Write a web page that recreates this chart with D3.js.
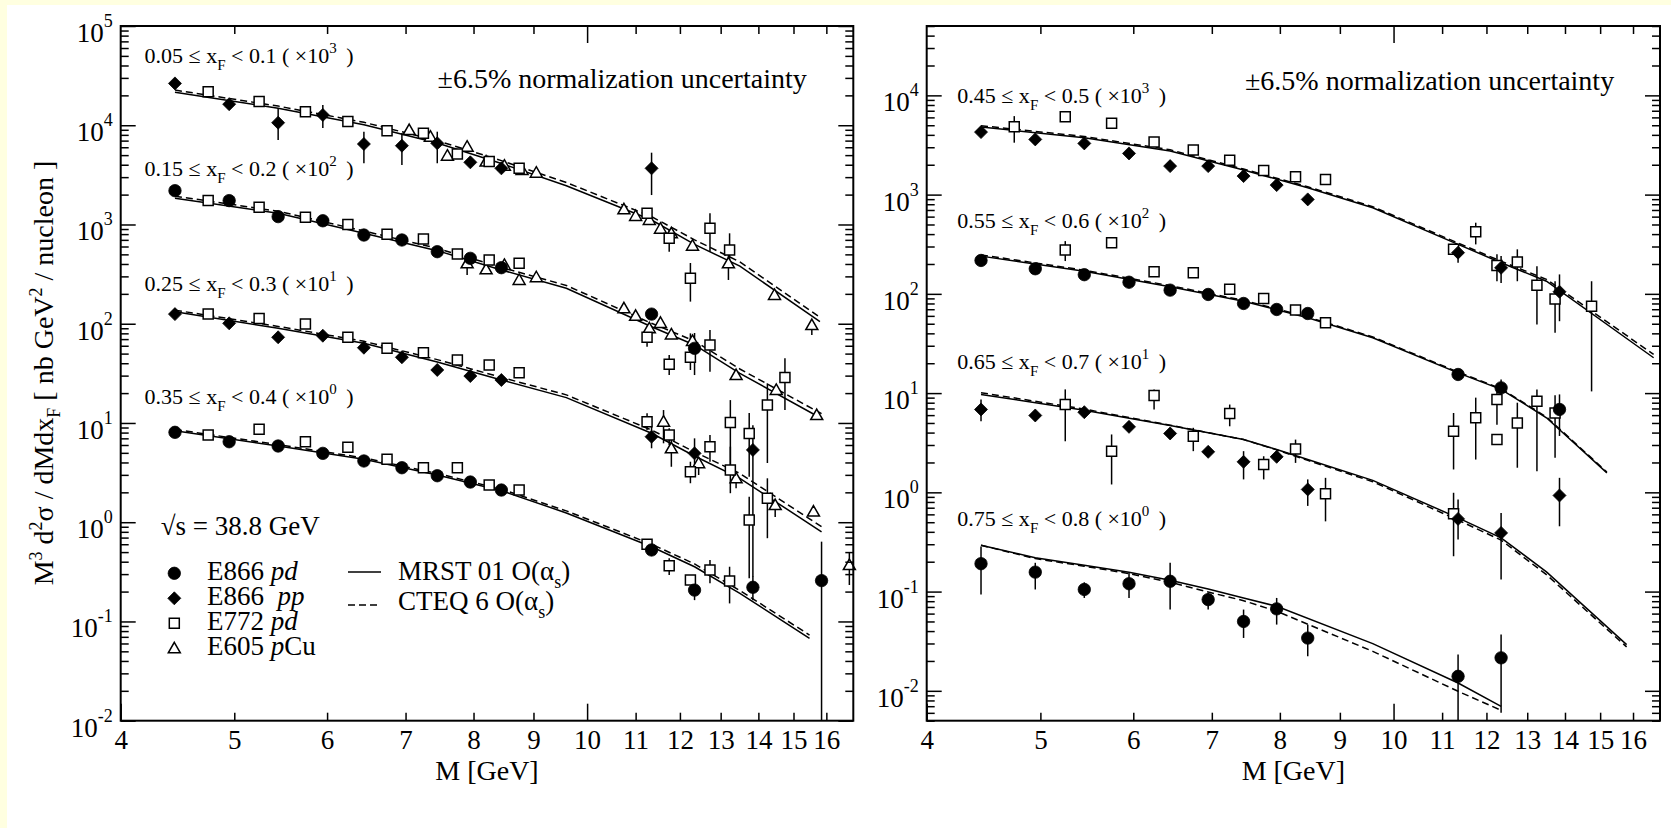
<!DOCTYPE html>
<html>
<head>
<meta charset="utf-8">
<script src="https://cdn.jsdelivr.net/npm/d3@7"></script>
<style>
  body { margin: 0; background: #ffffe0; }
  svg { display: block; }
  text { font-family: "Liberation Serif", "Times New Roman", serif; fill: #000; }
  .axis text { font-family: "Liberation Serif", serif; font-size: 27px; }
  .axis line { stroke: #000; stroke-width: 1.5; }
  .ylab { font-size: 27px; }
  .bin { font-size: 22px; }
  .title { font-size: 28px; }
  .leg { font-size: 27px; }
  .mrst { fill: none; stroke: #000; stroke-width: 1.5; }
  .cteq { fill: none; stroke: #000; stroke-width: 1.5; stroke-dasharray: 7,4; }
  .err { stroke: #000; stroke-width: 1.5; }
  .frame { fill: none; stroke: #000; stroke-width: 2; }
</style>
</head>
<body>
<svg id="chart" width="1671" height="828"></svg>
<script>
// ---------- left panel: rows are [M, value, low, high] ----------
// 0.05 <= xF < 0.1 (x10^3)
const a_e866pp = [[4.45,26400],[4.95,16300],[5.45,10600,7100,14900],[5.95,12700,9380,16000],[6.45,6470,4140,8610],[6.95,6220,3970,8360],[7.45,6580,4140,8610],[7.95,4230],[8.45,3680],[11.35,3680,1980,5290]];
const a_e772 = [[4.75,21800],[5.25,17300],[5.75,13700],[6.25,10900],[6.75,8810],[7.25,8290],[7.75,5130],[8.25,4300],[8.75,3680],[11.25,1300],[11.75,726,532,879],[12.25,287,167,409],[12.73,914,532,1297],[13.23,553,376,815]];
const a_e605 = [[7.05,8950],[7.35,7670],[7.6,4930],[7.9,6080],[8.2,4300],[8.5,3910],[8.8,3540],[9.05,3330],[10.75,1420],[11.0,1220],[11.3,1110],[11.55,906],[11.8,814],[12.3,611],[13.2,406,276,532],[14.45,195],[15.55,97,77,97]];
const a_thM = [4.45,5.45,6.45,7.45,8.45,9.6,11.35,12.35,13.5,15.8];
const a_mrst = [21480,14830,10120,6610,4120,2455,1109,631,380,105];
const a_cteq = [22600,15600,10700,7000,4400,2650,1200,700,420,116];

// 0.15 <= xF < 0.2 (x10^2)
const b_e866pd = [[4.45,2190],[4.95,1740],[5.45,1200],[5.95,1090],[6.45,783],[6.95,698],[7.45,532],[7.95,456],[8.45,367],[11.35,125],[12.35,56.5,30.4,80.7]];
const b_e772 = [[4.75,1740],[5.25,1490],[5.75,1180],[6.25,1000],[6.75,796],[7.25,714],[7.75,505],[8.25,439],[8.75,406],[11.25,73,58.6,90],[11.75,39,30.4,48.4],[12.25,46,34.2,80],[12.73,61,32.9,86.5],[13.25,10.1,3.36,17.0],[14.25,15.2,3.95,25.1],[14.75,28.8,13.5,44.8]];
const b_e605 = [[7.9,406,310,513],[8.2,353],[8.5,391],[8.75,276],[9.05,294],[10.75,143],[11.0,120],[11.3,90],[11.55,102],[11.8,78],[12.3,67],[13.4,30.4],[14.5,21.5],[15.7,12.0]];
const b_thM = [4.45,5.45,6.45,7.45,8.45,9.6,11.35,12.35,13.5,15.85];
const b_mrst = [1837,1297,815,545,348,228,93.3,61.1,31.6,11.1];
const b_cteq = [1930,1360,860,575,370,243,101,67,35,12.4];

// 0.25 <= xF < 0.3 (x10^1)
const c_e866pp = [[4.45,125],[4.95,101],[5.45,73],[5.95,75.7],[6.45,57.3],[6.95,45.9],[7.45,34.2],[7.95,29.7],[8.45,27.1],[11.35,7.27,5.56,9.17],[12.35,4.94,2.88,7.0],[13.85,5.35,0.28,9.5]];
const c_e772 = [[4.75,125],[5.25,113],[5.75,99.4],[6.25,73],[6.75,56.5],[7.25,51],[7.75,43],[8.25,38.4],[8.75,32.1],[11.25,10.3,8.49,12.5],[11.75,7.57,6.0,8.83],[12.25,3.23,2.47,4.07],[12.73,5.77,4.07,7.56],[13.25,3.36,1.96,5.77],[13.75,7.85,2.87,12.6],[14.25,1.74,0.69,2.77]];
const c_e605 = [[11.62,10.3,6.24,13.5],[11.8,5.56,3.62,6.73],[12.45,3.93,2.99,4.4],[13.4,2.77,2.2,2.99],[14.47,1.49,1.13,1.67],[15.6,1.28],[16.74,0.37,0.233,0.50]];
const c_thM = [4.45,5.45,6.45,7.45,8.45,9.6,11.35,12.35,13.5,15.85];
const c_mrst = [132,89.9,63.5,41.2,27.1,18.0,7.87,4.65,2.77,0.80];
const c_cteq = [137,94,66.5,43.5,28.8,19.2,8.5,5.1,3.1,0.9];

// 0.35 <= xF < 0.4 (x10^0)
const d_e866pd = [[4.45,8.05],[4.95,6.47],[5.45,5.86],[5.95,4.94],[6.45,4.14],[6.95,3.54],[7.45,2.94],[7.95,2.54],[8.45,2.11],[11.35,0.525],[12.35,0.207,0.164,0.251],[13.85,0.221,0.164,0.283],[15.85,0.258,0.01,0.637]];
const d_e772 = [[4.75,7.57],[5.25,8.63],[5.75,6.47],[6.25,5.69],[6.75,4.31],[7.25,3.54],[7.75,3.54],[8.25,2.37],[8.75,2.11],[11.25,0.60],[11.75,0.364,0.294,0.433],[12.25,0.261],[12.73,0.33,0.242,0.416],[13.23,0.255,0.152,0.356],[13.75,1.05,0.272,1.81]];
const d_thM = [4.45,5.45,6.45,7.45,8.45,9.6,11.35,12.35,13.5,15.48];
const d_mrst = [8.36,5.86,4.31,2.99,2.08,1.24,0.566,0.356,0.192,0.0675];
const d_cteq = [8.6,6.05,4.45,3.1,2.15,1.3,0.6,0.38,0.205,0.073];

// ---------- right panel ----------
// 0.45 <= xF < 0.5 (x10^3)
const e_e866pp = [[4.45,4266],[4.95,3600],[5.45,3281],[5.95,2602],[6.45,1937],[6.95,1937],[7.45,1537],[7.95,1247],[8.45,895],[11.35,260,206,315],[12.35,183,129,240],[13.85,105,53,157]];
const e_e772 = [[4.75,4836,3336,6180],[5.25,6100],[5.75,5227],[6.25,3381],[6.75,2813],[7.25,2213],[7.75,1753],[8.25,1514],[8.75,1422],[11.25,281],[11.75,423,315,521],[12.25,193,134,250],[12.75,209,134,281],[13.25,122,49,190],[13.73,89,40.5,134],[14.75,75,10.4,134]];
const e_thM = [4.45,5.45,6.45,7.45,8.45,9.6,11.35,12.35,13.5,16.66];
const e_mrst = [4797,3741,2748,1766,1175,738,315,206,134,22.7];
const e_cteq = [4950,3850,2830,1810,1200,755,325,213,140,24.5];

// 0.55 <= xF < 0.6 (x10^2)
const f_e866pd = [[4.45,217],[4.95,179],[5.45,156],[5.95,131],[6.45,109],[6.95,98.6],[7.45,80],[7.95,69.6],[8.45,63.4],[11.35,15.4],[12.35,11.3,9.0,13.7],[13.85,6.84,3.7,9.7]];
const f_e772 = [[5.25,276,214,340],[5.75,327],[6.25,167],[6.75,163],[7.25,111],[7.75,90],[8.25,68.6],[8.75,51.2],[11.25,4.13,1.70,6.3],[11.75,5.64,2.14,9.0],[12.25,8.6,4.8,10.9],[12.25,3.4],[12.75,5.0,1.77,8.0],[13.25,8.3,1.63,10.9],[13.73,6.3,2.23,9.5]];
const f_thM = [4.45,5.45,6.45,7.45,8.45,9.6,11.35,12.35,13.5,15.2];
const f_mrst = [240,169,118,84.3,57.4,36.1,16.0,10.9,5.64,1.57];
const f_cteq = [247,173,121,86,58.5,36.8,16.3,11.1,5.75,1.6];

// 0.65 <= xF < 0.7 (x10^1)
const g_e866pp = [[4.45,6.84,5.2,8.6],[4.95,5.95],[5.45,6.42],[5.95,4.57],[6.45,3.92],[6.95,2.56],[7.45,2.03,1.35,2.6],[7.95,2.28],[8.45,1.07,0.73,1.35],[11.35,0.54,0.335,0.845],[12.35,0.39,0.132,0.62],[13.85,0.93,0.455,1.40]];
const g_e772 = [[5.25,7.67,3.27,10.9],[5.75,2.6,1.2,3.83],[6.25,9.46,6.84,10.9],[6.75,3.68,2.6,4.47],[7.25,6.22,4.63,7.67],[7.75,1.91,1.35,2.31],[8.25,2.74,1.98,3.40],[8.75,0.97,0.51,1.40],[11.25,0.61,0.227,0.99]];
const g_thM = [4.45,5.45,6.45,7.45,7.95,8.45,9.6,11.35,12.35,13.5,15.8];
const g_mrst = [9.68,6.73,4.71,3.40,2.70,2.14,1.32,0.553,0.348,0.158,0.0292];
const g_cteq = [10.1,6.9,4.75,3.40,2.68,2.10,1.28,0.525,0.33,0.148,0.0277];

// 0.75 <= xF < 0.8 (x10^0)
const h_e866pd = [[4.45,0.191,0.0935,0.284],[4.95,0.157,0.105,0.195],[5.45,0.105,0.0863,0.124],[5.95,0.120,0.0863,0.154],[6.45,0.127,0.0659,0.195],[6.95,0.083,0.0659,0.097],[7.45,0.050,0.0341,0.0659],[7.95,0.067,0.0465,0.0863],[8.45,0.034,0.0223,0.0465],[11.35,0.014,0.005,0.0232],[12.35,0.0215,0.006,0.0369]];
const h_thM = [4.45,4.95,5.45,5.95,6.45,6.95,7.45,7.95,9.6,11.35,12.35];
const h_mrst = [0.293,0.219,0.184,0.157,0.130,0.106,0.0863,0.0711,0.0299,0.0120,0.00698];
const h_cteq = [0.293,0.215,0.18,0.152,0.124,0.099,0.081,0.0634,0.025,0.00989,0.00637];

// bin labels: [low, high, scale exponent]
const leftBins = [["0.05","0.1","3"],["0.15","0.2","2"],["0.25","0.3","1"],["0.35","0.4","0"]];
const rightBins = [["0.45","0.5","3"],["0.55","0.6","2"],["0.65","0.7","1"],["0.75","0.8","0"]];
const xTickValues = [4,5,6,7,8,9,10,11,12,13,14,15,16];
const legendRows = [["circle","E866 ","pd",""],["diamond","E866  ","pp",""],["square","E772 ","pd",""],["triangle","E605 ","p","Cu"]];

//------------------------------------------------------------
const W = 1671, H = 828;
const plotTop = 26, plotBottom = 720.7;
const svg = d3.select("#chart");
svg.append("rect").attr("x", 7).attr("y", 5).attr("width", W - 7).attr("height", H - 5).attr("fill", "#fff");

const shapes = {
  circle: "M6.2,0A6.2,6.2 0 1,1 -6.2,0A6.2,6.2 0 1,1 6.2,0Z",
  diamond: "M0,-6.5L6.5,0L0,6.5L-6.5,0Z",
  square: "M-5,-5H5V5H-5Z",
  triangle: "M0,-6L6,4.5H-6Z"
};
const filled = { circle: true, diamond: true, square: false, triangle: false };

function marker(sel, shape) {
  sel.attr("d", shapes[shape])
    .attr("fill", filled[shape] ? "#000" : "#fff")
    .attr("stroke", "#000")
    .attr("stroke-width", filled[shape] ? 0.8 : 1.5);
}

const panels = [
  { x0: 120.7, x1: 853.3, yDomain: [0.01, 1e5], labels: leftBins, labX: 144.6, labY: [62.5, 176, 290.5, 404],
    curves: [[a_thM,a_mrst,a_cteq],[b_thM,b_mrst,b_cteq],[c_thM,c_mrst,c_cteq],[d_thM,d_mrst,d_cteq]],
    sets: [[a_e605,"triangle"],[b_e605,"triangle"],[c_e605,"triangle"],
           [a_e772,"square"],[b_e772,"square"],[c_e772,"square"],[d_e772,"square"],
           [a_e866pp,"diamond"],[c_e866pp,"diamond"],[b_e866pd,"circle"],[d_e866pd,"circle"]],
    norm: { x: 806.7, y: 88, anchor: "end" } },
  { x0: 926.7, x1: 1660, yDomain: [0.005, 5e4], labels: rightBins, labX: 957.3, labY: [103.3, 227.7, 369, 526],
    curves: [[e_thM,e_mrst,e_cteq],[f_thM,f_mrst,f_cteq],[g_thM,g_mrst,g_cteq],[h_thM,h_mrst,h_cteq]],
    sets: [[e_e772,"square"],[f_e772,"square"],[g_e772,"square"],
           [e_e866pp,"diamond"],[g_e866pp,"diamond"],[f_e866pd,"circle"],[h_e866pd,"circle"]],
    norm: { x: 1245, y: 90, anchor: "start" } }
];

panels.forEach(p => {
  const x = d3.scaleLog().domain([4, 16.87]).range([p.x0, p.x1]);
  const y = d3.scaleLog().domain(p.yDomain).range([plotBottom, plotTop]);
  const clampY = v => Math.max(plotTop, Math.min(plotBottom, y(v)));
  const g = svg.append("g");

  // theory curves
  const line = d3.line().x(d => x(d[0])).y(d => y(d[1]));
  p.curves.forEach(c => {
    g.append("path").datum(d3.zip(c[0], c[2])).attr("class", "cteq").attr("d", line);
    g.append("path").datum(d3.zip(c[0], c[1])).attr("class", "mrst").attr("d", line);
  });

  // error bars first, then symbols
  p.sets.forEach(([rows]) => {
    g.selectAll(null).data(rows.filter(r => r.length > 2)).join("line")
      .attr("class", "err")
      .attr("x1", r => x(r[0])).attr("x2", r => x(r[0]))
      .attr("y1", r => clampY(r[3])).attr("y2", r => clampY(r[2]));
  });
  p.sets.forEach(([rows, shape]) => {
    g.selectAll(null).data(rows).join("path")
      .call(marker, shape)
      .attr("transform", r => `translate(${x(r[0])},${y(r[1])})`);
  });

  // frame
  g.append("rect").attr("class", "frame")
    .attr("x", p.x0).attr("y", plotTop).attr("width", p.x1 - p.x0).attr("height", plotBottom - plotTop);

  // x axes (ticks point inward)
  const minorX = xTickValues.filter(d => d !== 10 && d !== 4);
  g.append("g").attr("class", "axis").attr("transform", `translate(0,${plotBottom})`)
    .call(d3.axisBottom(x).tickValues(minorX).tickSizeInner(-8).tickSizeOuter(0).tickPadding(9).tickFormat(d3.format("d")));
  g.append("g").attr("class", "axis").attr("transform", `translate(0,${plotBottom})`)
    .call(d3.axisBottom(x).tickValues([4, 10]).tickSizeInner(-17).tickSizeOuter(0).tickPadding(9).tickFormat(d3.format("d")));
  g.append("g").attr("class", "axis").attr("transform", `translate(0,${plotTop})`)
    .call(d3.axisTop(x).tickValues(minorX).tickSizeInner(-8).tickSizeOuter(0).tickFormat(""));
  g.append("g").attr("class", "axis").attr("transform", `translate(0,${plotTop})`)
    .call(d3.axisTop(x).tickValues([10]).tickSizeInner(-17).tickSizeOuter(0).tickFormat(""));

  // y axes
  const isDecade = d => Math.abs(Math.log10(d) - Math.round(Math.log10(d))) < 1e-6;
  const allY = y.ticks();
  const majorY = allY.filter(isDecade), minorY = allY.filter(d => !isDecade(d));
  [[d3.axisLeft, p.x0], [d3.axisRight, p.x1]].forEach(([ax, pos]) => {
    g.append("g").attr("class", "axis").attr("transform", `translate(${pos},0)`)
      .call(ax(y).tickValues(minorY).tickSizeInner(-8).tickSizeOuter(0).tickFormat(""));
    g.append("g").attr("class", "axis").attr("transform", `translate(${pos},0)`)
      .call(ax(y).tickValues(majorY).tickSizeInner(-15).tickSizeOuter(0).tickFormat(""));
  });
  g.selectAll(".axis .domain").remove();

  g.selectAll(null).data(majorY).join("text")
    .attr("class", "ylab").attr("text-anchor", "end")
    .attr("x", p.x0 - 8).attr("y", d => y(d) + 16)
    .each(function(d) {
      const t = d3.select(this);
      t.append("tspan").text("10");
      t.append("tspan").attr("dy", -15).attr("font-size", 18).text(String(Math.round(Math.log10(d))));
    });

  // bin labels
  p.labels.forEach((b, i) => {
    const t = g.append("text").attr("class", "bin").attr("x", p.labX).attr("y", p.labY[i]);
    t.append("tspan").text(`${b[0]} \u2264 x`);
    t.append("tspan").attr("dy", 7).attr("font-size", 15).text("F");
    t.append("tspan").attr("dy", -7).text(` < ${b[1]} ( \u00d710`);
    t.append("tspan").attr("dy", -10).attr("font-size", 15).text(b[2]);
    t.append("tspan").attr("dy", 10).attr("dx", 4).text(" )");
  });

  g.append("text").attr("class", "title").attr("x", p.norm.x).attr("y", p.norm.y)
    .attr("text-anchor", p.norm.anchor).text("\u00b16.5% normalization uncertainty");

  g.append("text").attr("class", "title").attr("text-anchor", "middle")
    .attr("x", (p.x0 + p.x1) / 2).attr("y", 780).text("M [GeV]");
});

// y-axis title
const yt = svg.append("text").attr("class", "title").attr("text-anchor", "middle")
  .attr("transform", "translate(53,373) rotate(-90)");
yt.append("tspan").text("M");
yt.append("tspan").attr("dy", -11).attr("font-size", 18).text("3");
yt.append("tspan").attr("dy", 11).text(" d");
yt.append("tspan").attr("dy", -11).attr("font-size", 18).text("2");
yt.append("tspan").attr("dy", 11).text("\u03c3 / dMdx");
yt.append("tspan").attr("dy", 7).attr("font-size", 18).text("F");
yt.append("tspan").attr("dy", -7).text(" [ nb GeV");
yt.append("tspan").attr("dy", -11).attr("font-size", 18).text("2");
yt.append("tspan").attr("dy", 11).text(" / nucleon ]");

// legend
const leg = svg.append("g");
leg.append("text").attr("class", "leg").attr("x", 160.7).attr("y", 535).text("\u221As = 38.8 GeV");
legendRows.forEach((r, i) => {
  const cy = 573.3 + i * 25;
  leg.append("path").call(marker, r[0]).attr("transform", `translate(174.3,${cy})`);
  const t = leg.append("text").attr("class", "leg").attr("x", 207).attr("y", cy + 7).attr("xml:space", "preserve");
  t.append("tspan").text(r[1]);
  t.append("tspan").attr("font-style", "italic").text(r[2]);
  t.append("tspan").text(r[3]);
});
[["mrst", "MRST 01 O(\u03b1", 572, 580], ["cteq", "CTEQ 6 O(\u03b1", 605, 610]].forEach(r => {
  leg.append("line").attr("class", r[0]).attr("x1", 348).attr("x2", 381).attr("y1", r[2]).attr("y2", r[2]);
  const t = leg.append("text").attr("class", "leg").attr("x", 398).attr("y", r[3]);
  t.append("tspan").text(r[1]);
  t.append("tspan").attr("dy", 8).attr("font-size", 18).text("s");
  t.append("tspan").attr("dy", -8).text(")");
});
</script>
</body>
</html>
